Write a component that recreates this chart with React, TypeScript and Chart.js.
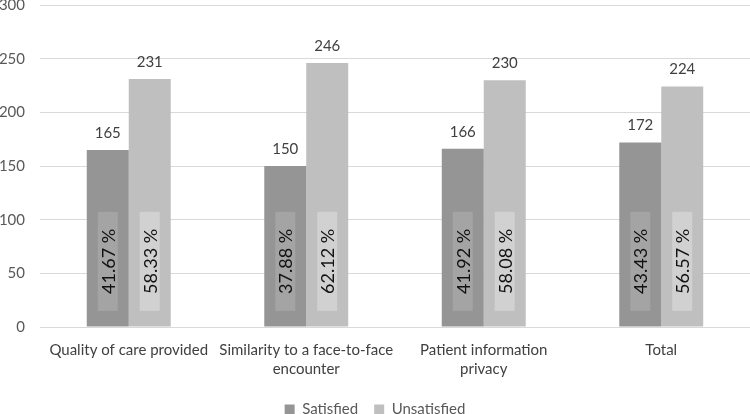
import React, { useEffect, useRef } from "react";
import { Chart, registerables } from "chart.js";

Chart.register(...registerables);

const categories: string[][] = [
  ["Quality of care provided"],
  ["Similarity to a face-to-face", "encounter"],
  ["Patient information", "privacy"],
  ["Total"],
];
const satisfied = [165, 150, 166, 172];
const unsatisfied = [231, 246, 230, 224];
const satisfiedPct = ["41.67 %", "37.88 %", "41.92 %", "43.43 %"];
const unsatisfiedPct = ["58.33 %", "62.12 %", "58.08 %", "56.57 %"];
const yTicks = [0, 50, 100, 150, 200, 250, 300];

const FONT = "Lato, 'Open Sans', sans-serif";

const labelPlugin = {
  id: "barLabels",
  afterDatasetsDraw(chart: any) {
    const ctx = chart.ctx;
    const yScale = chart.scales.y;
    const pcts = [satisfiedPct, unsatisfiedPct];
    const boxColors = ["#a4a4a4", "#d1d1d1"];
    chart.data.datasets.forEach((ds: any, di: number) => {
      const meta = chart.getDatasetMeta(di);
      meta.data.forEach((bar: any, i: number) => {
        ctx.save();
        ctx.font = `15px ${FONT}`;
        ctx.fillStyle = "#404040";
        ctx.textAlign = "center";
        ctx.textBaseline = "middle";
        ctx.fillText(String(ds.data[i]), bar.x, bar.y - 17);
        ctx.restore();

        const text = pcts[di][i];
        ctx.save();
        ctx.font = `18px ${FONT}`;
        const tw = ctx.measureText(text).width;
        const boxH = tw + 34;
        const bottom = yScale.getPixelForValue(15);
        const top = bottom - boxH;
        const boxW = 20;
        ctx.fillStyle = boxColors[di];
        ctx.fillRect(bar.x - boxW / 2, top, boxW, boxH);
        ctx.translate(bar.x, top + boxH / 2);
        ctx.rotate(-Math.PI / 2);
        ctx.fillStyle = "#111111";
        ctx.textAlign = "center";
        ctx.textBaseline = "middle";
        ctx.fillText(text, 0, 1);
        ctx.restore();
      });
    });
  },
};

export default function App() {
  const ref = useRef<HTMLCanvasElement | null>(null);
  useEffect(() => {
    if (!ref.current) return;
    const chart = new Chart(ref.current, {
      type: "bar",
      data: {
        labels: categories,
        datasets: [
          {
            label: "Satisfied",
            data: satisfied,
            backgroundColor: "#959595",
            barPercentage: 1,
            categoryPercentage: 0.473,
          },
          {
            label: "Unsatisfied",
            data: unsatisfied,
            backgroundColor: "#bfbfbf",
            barPercentage: 1,
            categoryPercentage: 0.473,
          },
        ],
      },
      options: {
        animation: false,
        responsive: true,
        maintainAspectRatio: false,
        layout: { padding: { top: 0, right: 0, bottom: 0, left: 0 } },
        plugins: {
          legend: {
            position: "bottom",
            labels: {
              boxWidth: 10,
              boxHeight: 10,
              padding: 16,
              color: "#595959",
              font: { family: FONT, size: 15 },
            },
          },
          tooltip: { enabled: false },
        },
        scales: {
          x: {
            grid: { display: false, drawTicks: false },
            border: { display: true, color: "#d9d9d9", width: 1 },
            ticks: {
              color: "#404040",
              padding: 13,
              font: { family: FONT, size: 15, lineHeight: 1.3 },
              maxRotation: 0,
              autoSkip: false,
            },
            afterFit: (scale: any) => {
              scale.height = 59;
            },
          },
          y: {
            min: 0,
            max: 300,
            afterBuildTicks: (scale: any) => {
              scale.ticks = yTicks.map((v) => ({ value: v }));
            },
            grid: { color: "#d9d9d9", drawTicks: false, lineWidth: 1 },
            border: { display: false },
            ticks: {
              color: "#595959",
              padding: 15,
              font: { family: FONT, size: 15 },
            },
            afterFit: (scale: any) => {
              scale.width = 40;
            },
          },
        },
      },
      plugins: [labelPlugin],
    });
    return () => chart.destroy();
  }, []);
  return (
    <div
      style={{
        position: "absolute",
        left: 0,
        top: -19,
        width: 750,
        height: 446,
        background: "#ffffff",
      }}
    >
      <canvas ref={ref} />
    </div>
  );
}
